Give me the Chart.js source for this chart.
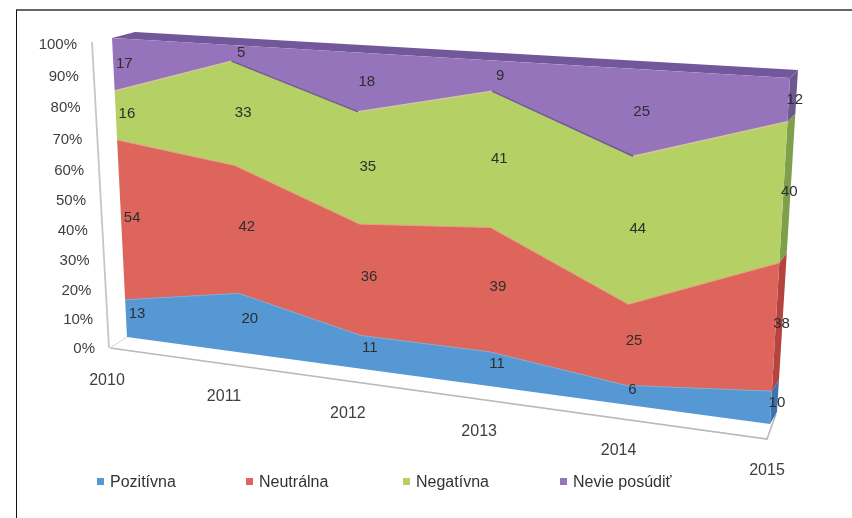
<!DOCTYPE html>
<html>
<head>
<meta charset="utf-8">
<script src="https://cdn.jsdelivr.net/npm/chart.js@4"></script>
<style>
html,body{margin:0;padding:0;background:#fff;overflow:hidden}
#wrap{position:relative;width:852px;height:518px}
canvas{position:absolute;left:0;top:0;filter:blur(0.6px)}
#frame{position:absolute;left:16px;top:9px;right:0;bottom:0;border-left:1px solid #111;border-top:2px solid #666}
</style>
</head>
<body>
<div id="wrap"><canvas id="c" width="852" height="518"></canvas><div id="frame"></div></div>
<script>
const categories = ['2010','2011','2012','2013','2014','2015'];
const baseline  = [0,0,0,0,0,0];
const pozitivna = [13,20,11,11,6,10];
const neutralna = [54,42,36,39,25,38];
const negativna = [16,33,35,41,44,40];
const nevie     = [17,5,18,9,25,12];

const blue='#5698d4', red='#dd655c', green='#b5d064', purple='#9674bb';
const sideColors=['#3c74ab','#b5443f','#7f9f4c','#6d5890'];

// perspective planes: bottom-left, bottom-right, top-right, top-left
const frontQuad=[[127,337],[770,424],[790,78],[112,38]];
const backQuad=[[150,326],[777,412],[798,70],[135,32]];
function makeH(q){
  const [p0,p1,p2,p3]=q;
  const dx1=p1[0]-p2[0],dx2=p3[0]-p2[0],sx=p0[0]-p1[0]+p2[0]-p3[0];
  const dy1=p1[1]-p2[1],dy2=p3[1]-p2[1],sy=p0[1]-p1[1]+p2[1]-p3[1];
  const den=dx1*dy2-dx2*dy1;
  const g=(sx*dy2-dx2*sy)/den,h=(dx1*sy-sx*dy1)/den;
  const a=p1[0]-p0[0]+g*p1[0],b=p3[0]-p0[0]+h*p3[0],c=p0[0];
  const d=p1[1]-p0[1]+g*p1[1],e=p3[1]-p0[1]+h*p3[1],f=p0[1];
  return (u,v)=>{const w=g*u+h*v+1;return [(a*u+b*v+c)/w,(d*u+e*v+f)/w];};
}
const front=makeH(frontQuad), back=makeH(backQuad);
const lerp=(a,b,t)=>a+(b-a)*t;

const perspective={
  id:'perspective',
  afterDatasetsUpdate(chart){
    const A=chart.chartArea;
    chart.$uv=[];
    chart.data.datasets.forEach((ds,i)=>{
      const pts=chart.getDatasetMeta(i).data;
      chart.$uv[i]=pts.map(p=>{
        const u=(p.x-A.left)/(A.right-A.left),v=(A.bottom-p.y)/(A.bottom-A.top);
        const m=front(u,v);p.x=m[0];p.y=m[1];
        return [u,v];
      });
    });
  },
  beforeDatasetsDraw(chart){
    const c=chart.ctx,uv=chart.$uv,n=categories.length-1;
    c.save();
    // floor and wall
    c.strokeStyle='#b9b9b9';c.lineWidth=1.6;
    c.beginPath();c.moveTo(110,348);c.lineTo(767,439);c.lineTo(776,414);c.stroke();
    c.strokeStyle='#e6e2da';c.lineWidth=1.4;
    c.beginPath();c.moveTo(110,348);c.lineTo(127,337);c.stroke();
    c.strokeStyle='#c6c6c6';c.lineWidth=1.8;
    c.beginPath();c.moveTo(92,42);c.lineTo(109,348);c.stroke();
    // right-hand faces
    for(let i=1;i<uv.length;i++){
      const lo=uv[i-1][n][1],hi=uv[i][n][1];
      c.fillStyle=sideColors[i-1];
      const a=front(1,lo),b=front(1,hi),d=back(1,hi),e=back(1,lo);
      c.beginPath();c.moveTo(...a);c.lineTo(...b);c.lineTo(...d);c.lineTo(...e);c.closePath();c.fill();
    }
    // top face
    c.fillStyle='#72589b';
    c.beginPath();c.moveTo(...front(0,1));c.lineTo(...front(1,1));c.lineTo(...back(1,1));c.lineTo(...back(0,1));c.closePath();c.fill();
    c.restore();
  },
  // each band is filled between its own line and the one beneath it
  beforeDatasetDraw(chart,args){
    const i=args.index;
    if(i===0) return;
    const c=chart.ctx,upper=args.meta.data,lower=chart.getDatasetMeta(i-1).data;
    c.save();
    c.fillStyle=chart.data.datasets[i].backgroundColor;
    c.beginPath();
    upper.forEach((p,j)=>j?c.lineTo(p.x,p.y):c.moveTo(p.x,p.y));
    for(let j=lower.length-1;j>=0;j--)c.lineTo(lower[j].x,lower[j].y);
    c.closePath();c.fill();
    c.restore();
  },
  afterDatasetsDraw(chart){
    const c=chart.ctx,uv=chart.$uv,ds=chart.data.datasets;
    c.save();
    c.textBaseline='middle';
    // data labels at band centres
    c.font='15px "Liberation Sans"';c.textAlign='center';c.fillStyle='#2e2e2e';
    for(let i=1;i<ds.length;i++){
      ds[i].data.forEach((val,j)=>{
        const u=uv[i][j][0],v=(uv[i][j][1]+uv[i-1][j][1])/2;
        const p=front(u,v);
        c.fillText(String(val),p[0]+lerp(11,6,u),p[1]+lerp(-5,0,v));
      });
    }
    // value axis labels from the y scale's ticks
    c.font='15px "Liberation Sans"';c.textAlign='right';c.fillStyle='#3e3e3e';
    const y=chart.scales.y;
    y.ticks.forEach(t=>{
      const q=t.value/100,w=q*0.95/(1-0.05*q);
      c.fillText(y.options.ticks.callback(t.value),lerp(95,77,q),lerp(349,45,w));
    });
    // category labels
    c.font='16px "Liberation Sans"';c.textAlign='center';
    const x=chart.scales.x,A=chart.chartArea;
    categories.forEach((lab,j)=>{
      const u=(x.getPixelForValue(j)-A.left)/(A.right-A.left);
      const p=front(u,0);
      c.fillText(lab,p[0]+lerp(-20,-3,u),p[1]+lerp(44,47,u));
    });
    // legend
    c.textAlign='left';c.font='16px "Liberation Sans"';
    const legendX=[97,246,403,560];
    for(let i=1;i<ds.length;i++){
      const lx=legendX[i-1];
      c.fillStyle=ds[i].backgroundColor;c.fillRect(lx,478,7,7);
      c.fillStyle='#333';c.fillText(ds[i].label,lx+13,483);
    }
    c.restore();
  }
};

const makeSet=(label,data,color,edge)=>({label,data,backgroundColor:color,borderColor:edge,borderWidth:1,fill:false,pointRadius:0,tension:0,clip:false});
new Chart(document.getElementById('c'),{
  type:'line',
  data:{labels:categories,datasets:[
    {label:'',data:baseline,borderWidth:0,pointRadius:0,fill:false,clip:false},
    makeSet('Pozitívna',pozitivna,blue,'#8aa6c8'),
    makeSet('Neutrálna',neutralna,red,'#e7a07f'),
    Object.assign(makeSet('Negatívna',negativna,green,'#d3c79a'),{borderWidth:1.5,segment:{borderColor:s=>s.p1.y>s.p0.y?'#6f5a98':'#d3c79a'}}),
    Object.assign(makeSet('Nevie posúdiť',nevie,purple,'rgba(0,0,0,0)'),{borderWidth:0})
  ]},
  options:{
    responsive:false,animation:false,
    layout:{padding:0},
    plugins:{legend:{display:false},title:{display:false},tooltip:{enabled:false}},
    scales:{
      x:{display:false,offset:false},
      y:{display:false,stacked:true,min:0,max:100,ticks:{stepSize:10,callback:v=>v+'%'}}
    }
  },
  plugins:[perspective]
});
</script>
</body>
</html>
